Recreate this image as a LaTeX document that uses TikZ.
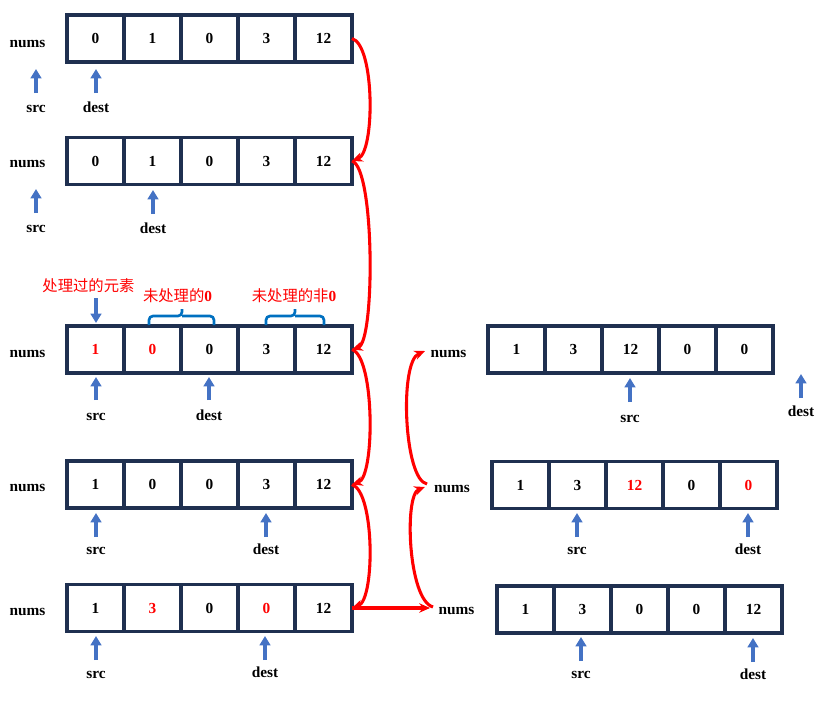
\documentclass[tikz,border=0pt]{standalone}
\usepackage{fontspec}
\setmainfont{Liberation Serif}
\newfontfamily\cjk{Noto Sans CJK SC}
\usetikzlibrary{arrows.meta}
\definecolor{boxc}{RGB}{31,48,80}
\definecolor{ptrc}{RGB}{68,114,196}
\definecolor{brcol}{RGB}{0,112,192}
\newcommand\rd[1]{\textcolor{red}{#1}}
\newcommand\myarr[4]{%
  \foreach \v [count=\i] in {#4} {\node[cell] (#1-\i) at ({#2+28.5+57*(\i-1)},#3) {\v};}}
\newcommand\myptr[6]{%
  \node[lbl,anchor=base] (#1) at (#2,#5) {#6};
  \coordinate (#1-t) at (#2,#3); \coordinate (#1-h) at (#2,#4);
  \draw[ptr] (#1-t) -- (#1-h);}
\begin{document}
\begin{tikzpicture}[x=0.75pt,y=-0.75pt,
  cell/.style={draw=boxc,line width=2.6pt,minimum width=42.75pt,minimum height=35.25pt,
    inner sep=0pt,outer sep=0pt,font=\fontsize{11.5}{13}\selectfont\bfseries},
  lbl/.style={inner sep=0pt,font=\fontsize{11.5}{13}\selectfont\bfseries},
  ptr/.style={draw=ptrc,line width=2.4pt,-{Triangle[length=7pt,width=8pt]}},
  rarr/.style={draw=red,line width=2.3pt,-{Stealth[length=8pt,width=7pt,inset=2.5pt]}},
  brace/.style={draw=brcol,line width=2pt,rounded corners=3pt},
  note/.style={inner sep=0pt,text=red,font=\fontsize{11.5}{13}\selectfont}]
\useasboundingbox (0,0) rectangle (818,711);
% left arrays
\myarr{A1}{67}{38.5}{0,1,0,3,12}
\myarr{A2}{67}{161}{0,1,0,3,12}
\myarr{A3}{67}{349.5}{\rd{1},\rd{0},0,3,12}
\myarr{A4}{67}{484.5}{1,0,0,3,12}
\myarr{A5}{67}{608}{1,\rd{3},0,\rd{0},12}
% right arrays
\myarr{R1}{488}{349.5}{1,3,12,0,0}
\myarr{R2}{492}{485}{1,3,\rd{12},0,\rd{0}}
\myarr{R3}{497}{609.5}{1,3,0,0,12}
% nums labels
\node[lbl,anchor=base] (n1) at (27.5,47) {nums};
\node[lbl,anchor=base] (n2) at (27.5,167) {nums};
\node[lbl,anchor=base] (n3) at (27.5,357) {nums};
\node[lbl,anchor=base] (n4) at (27.5,491) {nums};
\node[lbl,anchor=base] (n5) at (27.5,615) {nums};
\node[lbl,anchor=base] (m1) at (448.5,357) {nums};
\node[lbl,anchor=base] (m2) at (452,492) {nums};
\node[lbl,anchor=base] (m3) at (456.5,614) {nums};
% pointers
\myptr{s1}{36}{93}{69}{112}{src}
\myptr{d1}{96}{93}{69}{112}{dest}
\myptr{s2}{36}{213}{189}{232}{src}
\myptr{d2}{153}{214}{190}{233}{dest}
\myptr{s3}{96}{400}{377}{420}{src}
\myptr{d3}{209}{400}{377}{420}{dest}
\myptr{s4}{96}{537}{513}{554}{src}
\myptr{d4}{266}{537}{513}{554}{dest}
\myptr{s5}{96}{660}{636}{678}{src}
\myptr{d5}{265}{660}{636}{677}{dest}
\myptr{t1}{630}{402}{378}{422}{src}
\myptr{e1}{801}{398}{374}{416}{dest}
\myptr{t2}{577}{537}{513}{554}{src}
\myptr{e2}{748}{537}{513}{554}{dest}
\myptr{t3}{581}{661}{637}{678}{src}
\myptr{e3}{753}{662}{638}{679}{dest}
% annotations
\node[note] (p1) at (88.5,286) {\cjk 处理过的元素};
\node[note] (p2) at (177.5,296) {{\cjk 未处理的}\textbf{0}};
\node[note] (p3) at (294,296) {{\cjk 未处理的非}\textbf{0}};
\coordinate (p1-t) at (96,298); \coordinate (p1-h) at (96,323);
\draw[ptr] (p1-t) -- (p1-h);
\draw[brace] (149,325) -- (149,316) -- (182,316) -- (182,309);
\draw[brace] (214,325) -- (214,316) -- (182,316);
\draw[brace] (266,325) -- (266,316) -- (295,316) -- (295,309);
\draw[brace] (324,325) -- (324,316) -- (295,316);
% red flow arrows
\draw[rarr] (A1-5.east) .. controls (375,45) and (375,152) .. (A2-5.east);
\draw[rarr] (A2-5.east) .. controls (375,168) and (375,342) .. (A3-5.east);
\draw[rarr] (A3-5.east) .. controls (375,357) and (375,477) .. (A4-5.east);
\draw[rarr] (A4-5.east) .. controls (375,492) and (375,600) .. (A5-5.east);
\coordinate (m3w) at (430,608);
\draw[rarr] (A5-5.east) -- (m3w);
\coordinate (m3s) at (433,607); \coordinate (m2e) at (425,487);
\draw[rarr] (m3s) .. controls (408,600) and (404,495) .. (m2e);
\coordinate (m2s) at (427,484); \coordinate (m1e) at (425,351);
\draw[rarr] (m2s) .. controls (404,480) and (399,362) .. (m1e);
\end{tikzpicture}
\end{document}
